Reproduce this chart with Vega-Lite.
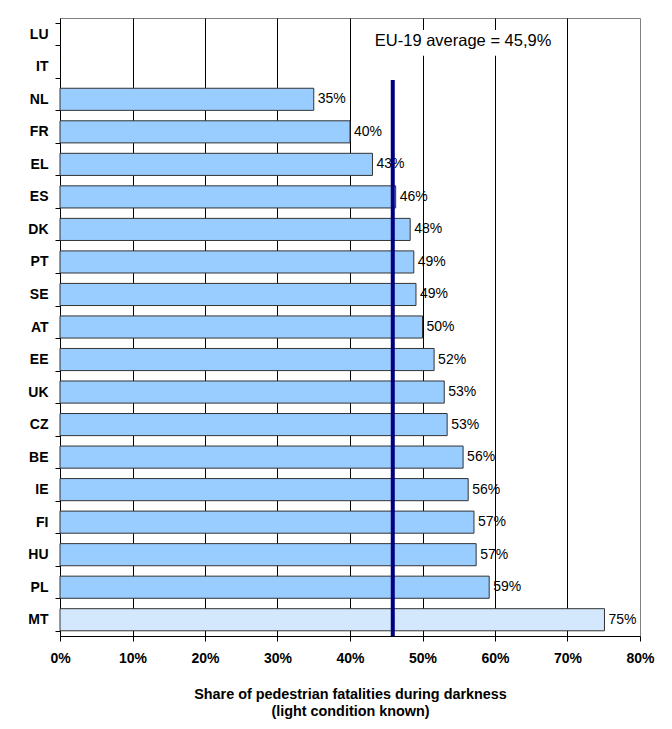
{
  "$schema": "https://vega.github.io/schema/vega-lite/v6.json",
  "width": 580,
  "height": 618,
  "autosize": {"type": "none"},
  "padding": {"left": 60, "top": 18, "right": 32, "bottom": 93},
  "background": "white",
  "config": {
    "font": "Liberation Sans",
    "view": {"stroke": "#808080", "strokeWidth": 1}
  },
  "datasets": {
    "countries": [
      {"country": "LU", "share": null},
      {"country": "IT", "share": null},
      {"country": "NL", "share": 0.350},
      {"country": "FR", "share": 0.400},
      {"country": "EL", "share": 0.431},
      {"country": "ES", "share": 0.463},
      {"country": "DK", "share": 0.483},
      {"country": "PT", "share": 0.488},
      {"country": "SE", "share": 0.491},
      {"country": "AT", "share": 0.500},
      {"country": "EE", "share": 0.516},
      {"country": "UK", "share": 0.530},
      {"country": "CZ", "share": 0.534},
      {"country": "BE", "share": 0.556},
      {"country": "IE", "share": 0.563},
      {"country": "FI", "share": 0.571},
      {"country": "HU", "share": 0.574},
      {"country": "PL", "share": 0.592},
      {"country": "MT", "share": 0.751}
    ],
    "average": [
      {"average": 0.459, "label": "EU-19 average = 45,9%", "labelAt": 0.556, "boxFrom": 0.43, "boxTo": 0.685}
    ]
  },
  "layer": [
    {
      "data": {"name": "countries"},
      "mark": {"type": "bar", "stroke": "#333333", "strokeWidth": 1},
      "encoding": {
        "y": {
          "field": "country",
          "type": "nominal",
          "title": null,
          "scale": {
            "domain": ["LU", "IT", "NL", "FR", "EL", "ES", "DK", "PT", "SE", "AT", "EE", "UK", "CZ", "BE", "IE", "FI", "HU", "PL", "MT"],
            "paddingInner": 0.32,
            "paddingOuter": 0.16
          },
          "axis": {
            "domainColor": "#000000",
            "tickColor": "#000000",
            "tickSize": 5,
            "tickBand": "extent",
            "labelFontSize": 14,
            "labelFontWeight": "bold",
            "labelColor": "#000000",
            "labelPadding": 7,
            "grid": false
          }
        },
        "x": {
          "field": "share",
          "type": "quantitative",
          "title": ["Share of pedestrian fatalities during darkness", "(light condition known)"],
          "scale": {"domain": [0, 0.8], "nice": false},
          "axis": {
            "values": [0, 0.1, 0.2, 0.3, 0.4, 0.5, 0.6, 0.7, 0.8],
            "format": ".0%",
            "grid": true,
            "gridColor": {
              "condition": {"test": "datum.value <= 0 || datum.value >= 0.8", "value": "transparent"},
              "value": "#000000"
            },
            "gridWidth": 1,
            "domainColor": "#000000",
            "tickColor": "#000000",
            "tickSize": 5,
            "labelFontSize": 14,
            "labelFontWeight": "bold",
            "labelColor": "#000000",
            "labelPadding": 10,
            "labelFlush": false,
            "titleFontSize": 14.4,
            "titleFontWeight": "bold",
            "titleColor": "#000000",
            "titlePadding": 22,
            "titleLineHeight": 17
          }
        },
        "fill": {
          "condition": {"test": "datum.country === 'MT'", "value": "#D3E8FC"},
          "value": "#99CCFF"
        }
      }
    },
    {
      "data": {"name": "countries"},
      "mark": {"type": "text", "align": "left", "baseline": "middle", "dx": 4, "fontSize": 14, "color": "#000000"},
      "encoding": {
        "y": {"field": "country", "type": "nominal"},
        "x": {"field": "share", "type": "quantitative", "title": ["Share of pedestrian fatalities during darkness", "(light condition known)"]},
        "text": {"field": "share", "type": "quantitative", "format": ".0%"}
      }
    },
    {
      "data": {"name": "average"},
      "mark": {"type": "rule", "color": "#000080", "strokeWidth": 4},
      "encoding": {
        "x": {"field": "average", "type": "quantitative", "title": ["Share of pedestrian fatalities during darkness", "(light condition known)"]},
        "y": {"datum": "IT", "type": "nominal", "bandPosition": 1.1},
        "y2": {"value": "height"}
      }
    },
    {
      "data": {"name": "average"},
      "mark": {"type": "rect", "fill": "white"},
      "encoding": {
        "x": {"field": "boxFrom", "type": "quantitative", "title": ["Share of pedestrian fatalities during darkness", "(light condition known)"]},
        "x2": {"field": "boxTo"},
        "y": {"datum": "LU", "type": "nominal", "bandPosition": 0.31},
        "y2": {"datum": "IT", "bandPosition": 0}
      }
    },
    {
      "data": {"name": "average"},
      "mark": {"type": "text", "align": "center", "baseline": "middle", "fontSize": 16.5, "color": "#000000"},
      "encoding": {
        "x": {"field": "labelAt", "type": "quantitative", "title": ["Share of pedestrian fatalities during darkness", "(light condition known)"]},
        "y": {"datum": "LU", "type": "nominal", "bandPosition": 0.8},
        "text": {"field": "label"}
      }
    }
  ]
}
